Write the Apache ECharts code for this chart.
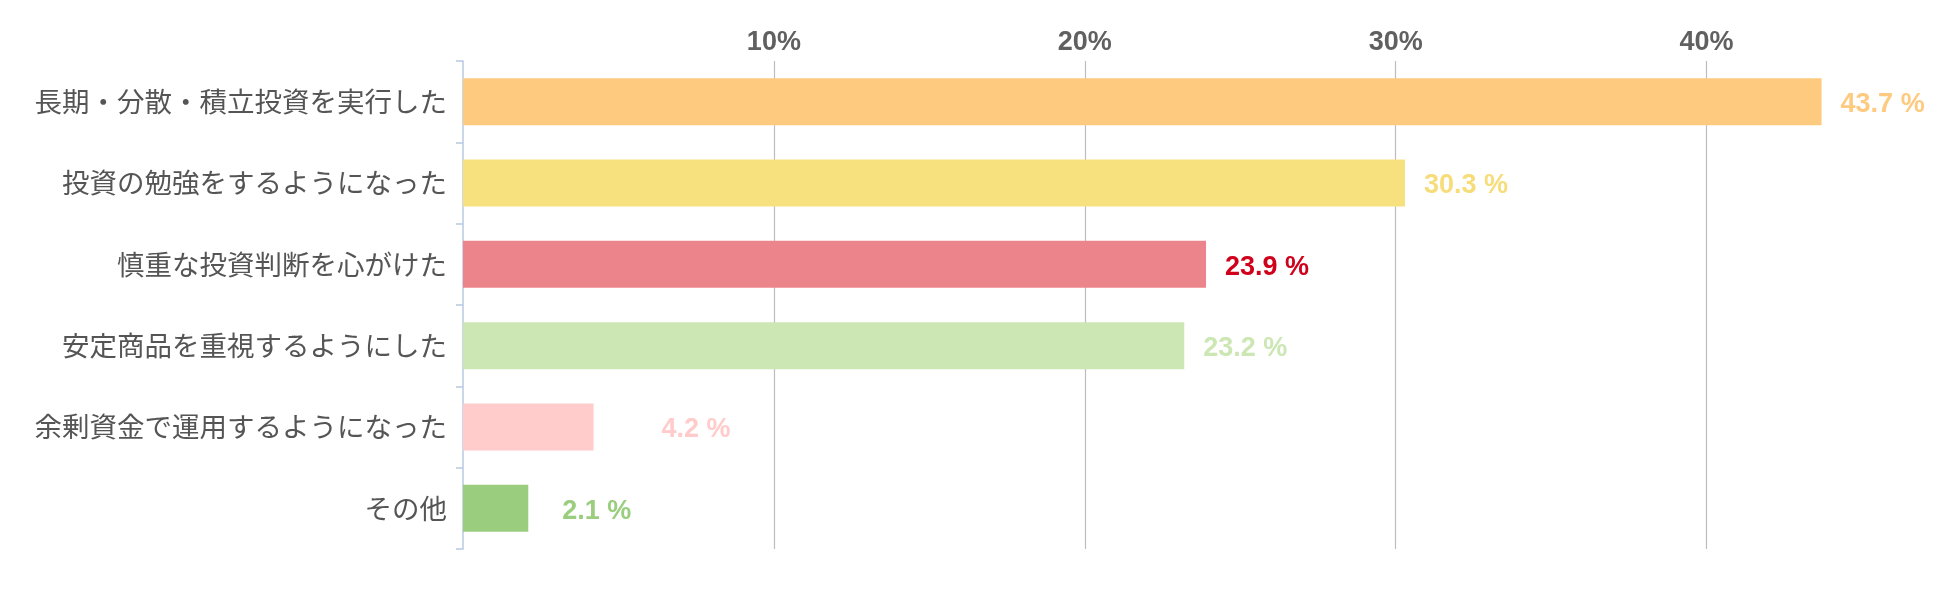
<!DOCTYPE html>
<html><head><meta charset="utf-8">
<script src="https://cdn.jsdelivr.net/npm/echarts@6/dist/echarts.min.js"></script>
<style>html,body{margin:0;padding:0;background:#fff}#c{width:1950px;height:595px}</style>
</head><body><div id="c"></div>
<script>
const categories = ['長期・分散・積立投資を実行した','投資の勉強をするようになった','慎重な投資判断を心がけた','安定商品を重視するようにした','余剰資金で運用するようになった','その他'];
const values = [43.7, 30.3, 23.9, 23.2, 4.2, 2.1];
const tickValues = [10, 20, 30, 40];

const barColors = ['#FECA80','#F7E17F','#EC848B','#CCE6B4','#FFCCCB','#9ACE7E'];
const labelColors = ['#FECA80','#F7DC7A','#D0021B','#CCE6B4','#FFCCCB','#9ACE7E'];
const labelShift = [0, 0, 0, 0, 49, 15];

const chart = echarts.init(document.getElementById('c'));
chart.setOption({
  animation: false,
  grid: {left: 463, right: 88, top: 61, bottom: 46},
  xAxis: {
    type: 'value', position: 'top', min: 0, max: 45, interval: 10,
    axisLine: {show: false}, axisTick: {show: false},
    axisLabel: {
      showMinLabel: false, showMaxLabel: false,
      formatter: v => tickValues.includes(v) ? v + '%' : '',
      color: '#606060', fontSize: 27, fontWeight: 'bold',
      fontFamily: 'Liberation Sans, Arial, sans-serif', margin: 5
    },
    splitLine: {show: true, showMinLine: false, showMaxLine: false, lineStyle: {color: '#BDBDBD', width: 1.2}}
  },
  yAxis: {
    type: 'category', inverse: true, data: categories,
    axisLine: {show: true, lineStyle: {color: '#B8C8E2', width: 1.5}},
    axisTick: {show: true, length: 7, lineStyle: {color: '#B8C8E2', width: 1.5}},
    axisLabel: {color: '#555', fontSize: 27.5, fontFamily: 'Noto Sans CJK JP, sans-serif', margin: 16, padding: [4, 0, 0, 0]}
  },
  series: [{
    type: 'bar', barWidth: 47,
    data: values.map((v, i) => ({
      value: v,
      itemStyle: {color: barColors[i]},
      label: {color: labelColors[i], offset: [labelShift[i], 3]}
    })),
    label: {
      show: true, position: 'right', distance: 19,
      formatter: p => p.value.toFixed(1) + ' %',
      fontSize: 27, fontWeight: 'bold', fontFamily: 'Liberation Sans, Arial, sans-serif'
    }
  }]
});
</script></body></html>
